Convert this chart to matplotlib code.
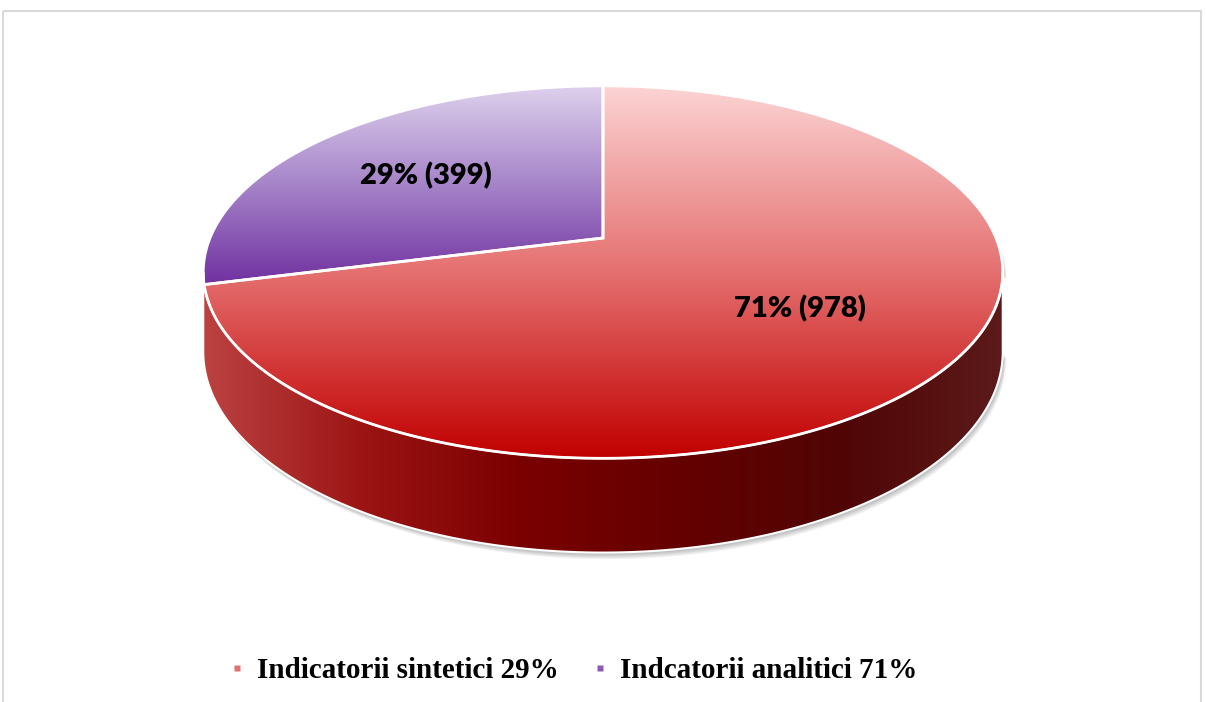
import numpy as np
import matplotlib.pyplot as plt
from matplotlib.patches import Polygon, Rectangle
from matplotlib.lines import Line2D
from matplotlib.colors import LinearSegmentedColormap

# data
values = [978, 399]
slice_labels = ['71% (978)', '29% (399)']
legend_labels = ['Indicatorii sintetici 29%', 'Indcatorii analitici 71%']
top_colors = [['#FCD4D4', '#E57070', '#C10000'],
              ['#DDD0EC', '#A583C8', '#7030A0']]
side_colors = ['#BC4242', '#9C1414', '#7A0000', '#640000', '#500505', '#5C1A1A']
legend_colors = ['#E56E6E', '#8B5CB6']

W, H = 1206, 702
fig = plt.figure(figsize=(W / 100, H / 100), dpi=100)
ax = fig.add_axes([0, 0, 1, 1])
ax.set_xlim(0, W)
ax.set_ylim(H, 0)
ax.axis('off')

# simple perspective model of the 3d pie
cx, cy = 603, 238
A, B, k, h = 180, 393, 0.183, 77


def proj(theta, level=0.0, r=1.0):
    t = np.radians(theta)
    x = r * np.cos(t)
    z = -r * np.sin(t)
    s = 1.0 / (1 - k * z)
    return cx + B * x * s, cy + (A * z + level * h) * s


def gradient_fill(poly, colors, x0, x1, y0, y1, vertical=True):
    cmap = LinearSegmentedColormap.from_list('g', colors)
    g = np.linspace(0, 1, 256)
    if vertical:
        arr = cmap(g)[:, None, :]
    else:
        arr = cmap(g)[None, :, :]
    im = ax.imshow(arr, extent=(x0, x1, y1, y0), aspect='auto',
                   interpolation='bicubic', zorder=2)
    im.set_clip_path(poly)


# frame
ax.add_patch(Rectangle((3, 11), 1198, 720, fill=False, ec='#D9D9D9', lw=1.5))

fracs = np.array(values) / sum(values)
bounds = 90 - 360 * np.concatenate([[0], np.cumsum(fracs)])

# visible side: between the two silhouette points
sil = np.degrees(np.arcsin(k))
th_side = np.linspace(-180 + sil, -sil, 300)
tx, ty = proj(th_side, 0)
bx, by = proj(th_side, 1)
side_pts = np.column_stack([np.r_[tx, bx[::-1]], np.r_[ty, by[::-1]]])

# soft shadow
back = np.linspace(-sil, 180 + sil, 200)
sx, sy = proj(back, 0)
outline = np.column_stack([np.r_[sx, bx[::-1]], np.r_[sy, by[::-1]]])
for i in range(1, 7):
    ax.add_patch(Polygon(outline + [i * 0.6, i * 1.1], closed=True,
                         fc='#000000', ec='none', alpha=0.05, zorder=1))

side = Polygon(side_pts, closed=True, fc='none', ec='none', zorder=2)
ax.add_patch(side)
gradient_fill(side, side_colors, tx.min(), tx.max(), ty.min(), by.max(),
              vertical=False)
ax.add_patch(Polygon(side_pts, closed=True, fill=False, ec='white', lw=1.5,
                     zorder=3))

# top faces
ytop = cy - A / (1 + k)
for i in range(len(values)):
    th = np.linspace(bounds[i], bounds[i + 1], 300)
    px, py = proj(th, 0)
    pts = np.column_stack([np.r_[cx, px], np.r_[cy, py]])
    poly = Polygon(pts, closed=True, fc='none', ec='none', zorder=2)
    ax.add_patch(poly)
    gradient_fill(poly, top_colors[i], cx - 420, cx + 420, ytop, max(py.max(), cy))
    ax.add_patch(Polygon(pts, closed=True, fill=False, ec='white', lw=2,
                         joinstyle='miter', zorder=4))
    mid = (bounds[i] + bounds[i + 1]) / 2
    lx, ly = proj(mid, 0, 0.6)
    ax.text(lx - 3, ly, slice_labels[i], ha='center', va='center', fontsize=21,
            fontweight='heavy', family='Lato', color='black', zorder=5)

# legend
handles = [Line2D([], [], ls='none', marker='s', markersize=4.5,
                  mfc=c, mec='none') for c in legend_colors]
ax.legend(handles, legend_labels, loc='center', bbox_to_anchor=(574 / W, 1 - 671 / H),
          ncol=2, frameon=False, handlelength=0.4, handletextpad=0.5,
          columnspacing=1.2,
          prop={'family': 'Liberation Serif', 'weight': 'bold', 'size': 21})

fig.savefig('out.png', dpi=100)
